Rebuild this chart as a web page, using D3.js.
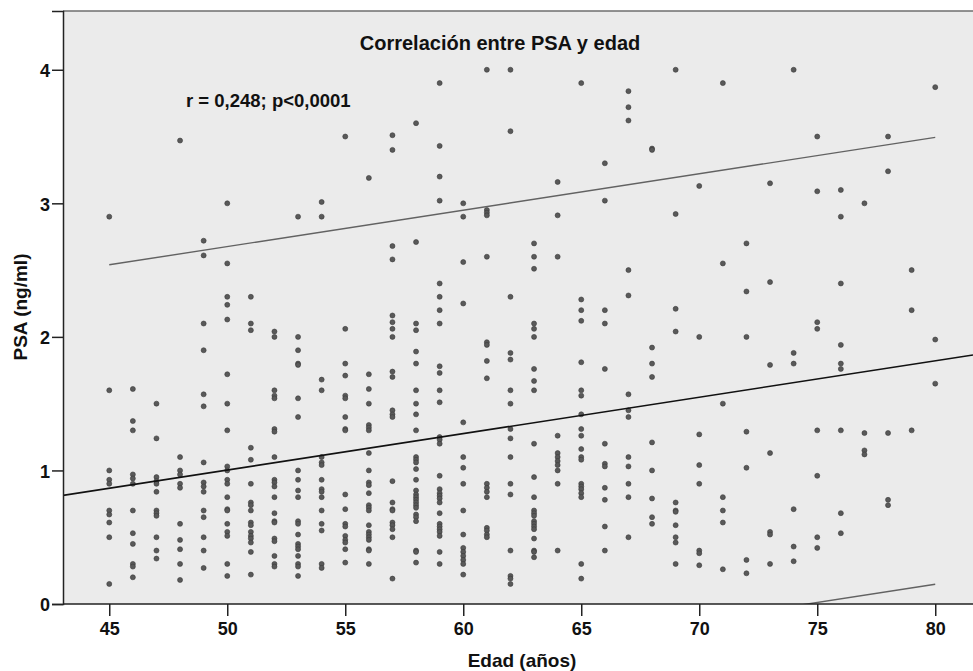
<!DOCTYPE html>
<html>
<head>
<meta charset="utf-8">
<script src="https://cdn.jsdelivr.net/npm/d3@7"></script>
<style>
  html, body { margin: 0; padding: 0; background: #fff; }
  svg { display: block; font-family: "Liberation Sans", Arial, sans-serif; }
  .tick text { font-weight: bold; }
</style>
</head>
<body>
<div id="chart"></div>
<script>
// datos: edad (años) y PSA (ng/ml)
const ages = [45, 46, 47, 48, 49, 50, 51, 52, 53, 54, 55, 56, 57, 58, 59, 60, 61, 62,
              63, 64, 65, 66, 67, 68, 69, 70, 71, 72, 73, 74, 75, 76, 77, 78, 79, 80];
const psaByAge = [
  [2.90, 1.60, 1.00, 0.93, 0.90, 0.70, 0.67, 0.61, 0.50, 0.15],
  [1.61, 1.37, 1.30, 0.97, 0.94, 0.90, 0.70, 0.53, 0.45, 0.30, 0.28, 0.20],
  [1.50, 1.24, 0.95, 0.92, 0.90, 0.84, 0.70, 0.68, 0.66, 0.50, 0.40, 0.34],
  [3.47, 1.10, 1.00, 0.97, 0.90, 0.87, 0.60, 0.48, 0.41, 0.30, 0.18],
  [2.72, 2.61, 2.10, 1.90, 1.57, 1.48, 1.06, 0.91, 0.88, 0.84, 0.70, 0.65, 0.50, 0.40, 0.27],
  [3.00, 2.55, 2.30, 2.24, 2.13, 1.72, 1.50, 1.30, 1.03, 1.00, 0.93, 0.90, 0.80, 0.71, 0.70, 0.60, 0.54, 0.51, 0.30, 0.21],
  [2.30, 2.10, 2.05, 1.17, 1.08, 0.90, 0.76, 0.74, 0.70, 0.61, 0.59, 0.54, 0.51, 0.49, 0.46, 0.39, 0.22],
  [2.04, 2.00, 1.60, 1.56, 1.54, 1.31, 1.29, 1.10, 0.93, 0.91, 0.88, 0.80, 0.68, 0.62, 0.61, 0.49, 0.47, 0.36, 0.30, 0.28],
  [2.90, 2.00, 1.90, 1.80, 1.79, 1.54, 1.40, 1.00, 0.93, 0.85, 0.80, 0.62, 0.60, 0.52, 0.45, 0.43, 0.41, 0.36, 0.30, 0.28, 0.21],
  [3.01, 2.90, 1.68, 1.60, 1.10, 1.06, 1.04, 0.93, 0.86, 0.84, 0.80, 0.70, 0.60, 0.55, 0.30, 0.27],
  [3.50, 2.06, 1.80, 1.71, 1.56, 1.54, 1.40, 1.31, 1.30, 0.82, 0.71, 0.60, 0.58, 0.51, 0.48, 0.46, 0.41, 0.31],
  [3.19, 1.72, 1.61, 1.50, 1.34, 1.32, 1.30, 1.13, 1.00, 0.91, 0.89, 0.83, 0.74, 0.72, 0.70, 0.59, 0.54, 0.52, 0.50, 0.48, 0.41, 0.40, 0.30],
  [3.51, 3.40, 2.68, 2.58, 2.16, 2.11, 2.06, 2.00, 1.74, 1.70, 1.45, 1.42, 1.40, 0.92, 0.76, 0.71, 0.70, 0.61, 0.59, 0.56, 0.50, 0.19],
  [3.60, 2.71, 2.10, 2.05, 1.89, 1.80, 1.60, 1.50, 1.42, 1.30, 1.10, 1.08, 1.06, 1.01, 0.93, 0.85, 0.82, 0.80, 0.78, 0.76, 0.74, 0.72, 0.67, 0.65, 0.62, 0.40, 0.39, 0.31],
  [3.90, 3.43, 3.20, 3.02, 2.40, 2.30, 2.20, 2.10, 1.78, 1.73, 1.60, 1.51, 1.25, 1.23, 1.20, 0.96, 0.86, 0.83, 0.81, 0.79, 0.76, 0.68, 0.60, 0.58, 0.56, 0.54, 0.51, 0.39, 0.30],
  [3.00, 2.90, 2.56, 2.25, 1.36, 1.10, 1.02, 0.90, 0.70, 0.52, 0.42, 0.39, 0.36, 0.33, 0.30, 0.22],
  [4.00, 2.95, 2.93, 2.91, 2.60, 1.96, 1.94, 1.82, 1.69, 0.90, 0.87, 0.84, 0.80, 0.57, 0.55, 0.52, 0.50],
  [4.00, 3.54, 2.30, 1.88, 1.83, 1.60, 1.50, 1.31, 1.24, 1.10, 0.90, 0.82, 0.40, 0.21, 0.19, 0.15],
  [2.70, 2.60, 2.51, 2.10, 2.06, 2.00, 1.76, 1.67, 1.60, 1.20, 0.95, 0.80, 0.70, 0.68, 0.66, 0.62, 0.60, 0.58, 0.56, 0.49, 0.40, 0.39, 0.35],
  [3.16, 2.91, 2.60, 1.26, 1.13, 1.10, 1.07, 1.04, 1.00, 0.90, 0.40],
  [3.90, 2.28, 2.20, 2.12, 1.81, 1.60, 1.56, 1.42, 1.31, 1.26, 1.16, 1.10, 1.08, 0.90, 0.88, 0.86, 0.83, 0.80, 0.30, 0.19],
  [3.30, 3.02, 2.20, 2.10, 1.76, 1.20, 1.05, 1.03, 0.87, 0.78, 0.58, 0.40],
  [3.84, 3.72, 3.62, 2.50, 2.31, 1.57, 1.45, 1.40, 1.10, 1.03, 0.90, 0.80, 0.50],
  [3.41, 3.40, 1.92, 1.80, 1.70, 1.21, 1.00, 0.79, 0.65, 0.60],
  [4.00, 2.92, 2.21, 2.04, 0.76, 0.70, 0.69, 0.59, 0.50, 0.46, 0.30],
  [3.13, 2.00, 1.27, 1.04, 0.90, 0.40, 0.38, 0.29],
  [3.90, 2.55, 1.50, 0.80, 0.70, 0.61, 0.26],
  [2.70, 2.34, 2.00, 1.29, 1.02, 0.33, 0.23],
  [3.15, 2.41, 1.79, 1.13, 0.54, 0.52, 0.30],
  [4.00, 1.88, 1.80, 0.71, 0.43, 0.32],
  [3.50, 3.09, 2.11, 2.06, 1.30, 0.96, 0.50, 0.42],
  [3.10, 2.90, 2.40, 1.94, 1.80, 1.76, 1.30, 0.68, 0.53],
  [3.00, 1.28, 1.15, 1.12],
  [3.50, 3.24, 1.28, 0.78, 0.74],
  [2.50, 2.20, 1.30],
  [3.87, 1.98, 1.65]
];

// recta de regresion y banda de prediccion individual
const fitIntercept = -0.360;
const fitSlope = 0.02726;
const predHalfWidth = 1.673;
const fitRange = [45, 80];

const xTicks = [45, 50, 55, 60, 65, 70, 75, 80];
const yTicks = [0, 1, 2, 3, 4];
const xDomain = [43.04, 81.6];
const yDomain = [0, 4.44];

const title = "Correlación entre PSA y edad";
const stats = "r = 0,248; p<0,0001";
const xLabel = "Edad (años)";
const yLabel = "PSA (ng/ml)";

const width = 973, height = 671;
const margin = {top: 11, right: 0, bottom: 67, left: 63};

const svg = d3.select("#chart").append("svg")
    .attr("width", width)
    .attr("height", height);

const x = d3.scaleLinear().domain(xDomain).range([margin.left, width - margin.right]);
const y = d3.scaleLinear().domain(yDomain).range([height - margin.bottom, margin.top]);

// fondo del area de grafico
svg.append("rect")
    .attr("x", margin.left)
    .attr("y", margin.top)
    .attr("width", width - margin.right - margin.left)
    .attr("height", height - margin.bottom - margin.top)
    .attr("fill", "#ebebeb");

svg.append("clipPath").attr("id", "plotclip")
  .append("rect")
    .attr("x", margin.left)
    .attr("y", margin.top)
    .attr("width", width - margin.right - margin.left)
    .attr("height", height - margin.bottom - margin.top);

// borde superior
svg.append("line")
    .attr("x1", margin.left).attr("x2", width)
    .attr("y1", margin.top).attr("y2", margin.top)
    .attr("stroke", "#6e6e6e")
    .attr("stroke-width", 1.5);

const plot = svg.append("g").attr("clip-path", "url(#plotclip)");

// puntos
const points = [];
ages.forEach((a, i) => psaByAge[i].forEach(v => points.push({age: a, psa: v})));

plot.append("g")
  .selectAll("circle")
  .data(points)
  .join("circle")
    .attr("cx", d => x(d.age))
    .attr("cy", d => y(d.psa))
    .attr("r", 2.5)
    .attr("fill", "#595959")
    .attr("stroke", "#3a3a3a")
    .attr("stroke-width", 0.6);

const fit = a => fitIntercept + fitSlope * a;
const line = d3.line().x(d => x(d[0])).y(d => y(d[1]));

// bandas de prediccion
[predHalfWidth, -predHalfWidth].forEach(h => {
  plot.append("path")
    .datum(fitRange.map(a => [a, fit(a) + h]))
    .attr("d", line)
    .attr("fill", "none")
    .attr("stroke", "#626262")
    .attr("stroke-width", 1.4);
});

// recta de regresion
plot.append("path")
    .datum(xDomain.map(a => [a, fit(a)]))
    .attr("d", line)
    .attr("fill", "none")
    .attr("stroke", "#111")
    .attr("stroke-width", 1.6);

// ejes
const xAxis = svg.append("g")
    .attr("transform", `translate(0,${height - margin.bottom})`)
    .call(d3.axisBottom(x).tickValues(xTicks).tickSize(12).tickPadding(6));
const yAxis = svg.append("g")
    .attr("transform", `translate(${margin.left},0)`)
    .call(d3.axisLeft(y).tickValues(yTicks).tickFormat(d3.format("d")).tickSize(11).tickPadding(2));

[xAxis, yAxis].forEach(g => {
  g.select(".domain").attr("stroke", "#222").attr("stroke-width", 1.5);
  g.selectAll(".tick line").attr("stroke", "#222").attr("stroke-width", 1.5);
  g.selectAll(".tick text")
    .attr("fill", "#111")
    .style("font-size", "18px")
    .style("font-family", "'Liberation Sans', Arial, sans-serif");
});
xAxis.select(".domain").attr("d", `M${margin.left},0H${width}`);
yAxis.selectAll(".tick text").attr("dy", "0.38em");

// textos
svg.append("text")
    .attr("x", 500)
    .attr("y", 50)
    .attr("text-anchor", "middle")
    .style("font-size", "20px")
    .style("font-weight", "bold")
    .attr("fill", "#111")
    .text(title);

svg.append("text")
    .attr("x", 186)
    .attr("y", 107)
    .style("font-size", "18.5px")
    .style("font-weight", "bold")
    .attr("fill", "#111")
    .text(stats);

svg.append("text")
    .attr("x", 522)
    .attr("y", 667)
    .attr("text-anchor", "middle")
    .style("font-size", "19px")
    .style("font-weight", "bold")
    .attr("fill", "#111")
    .text(xLabel);

svg.append("text")
    .attr("transform", "translate(27,307) rotate(-90)")
    .attr("text-anchor", "middle")
    .style("font-size", "19px")
    .style("font-weight", "bold")
    .attr("fill", "#111")
    .text(yLabel);
</script>
</body>
</html>
